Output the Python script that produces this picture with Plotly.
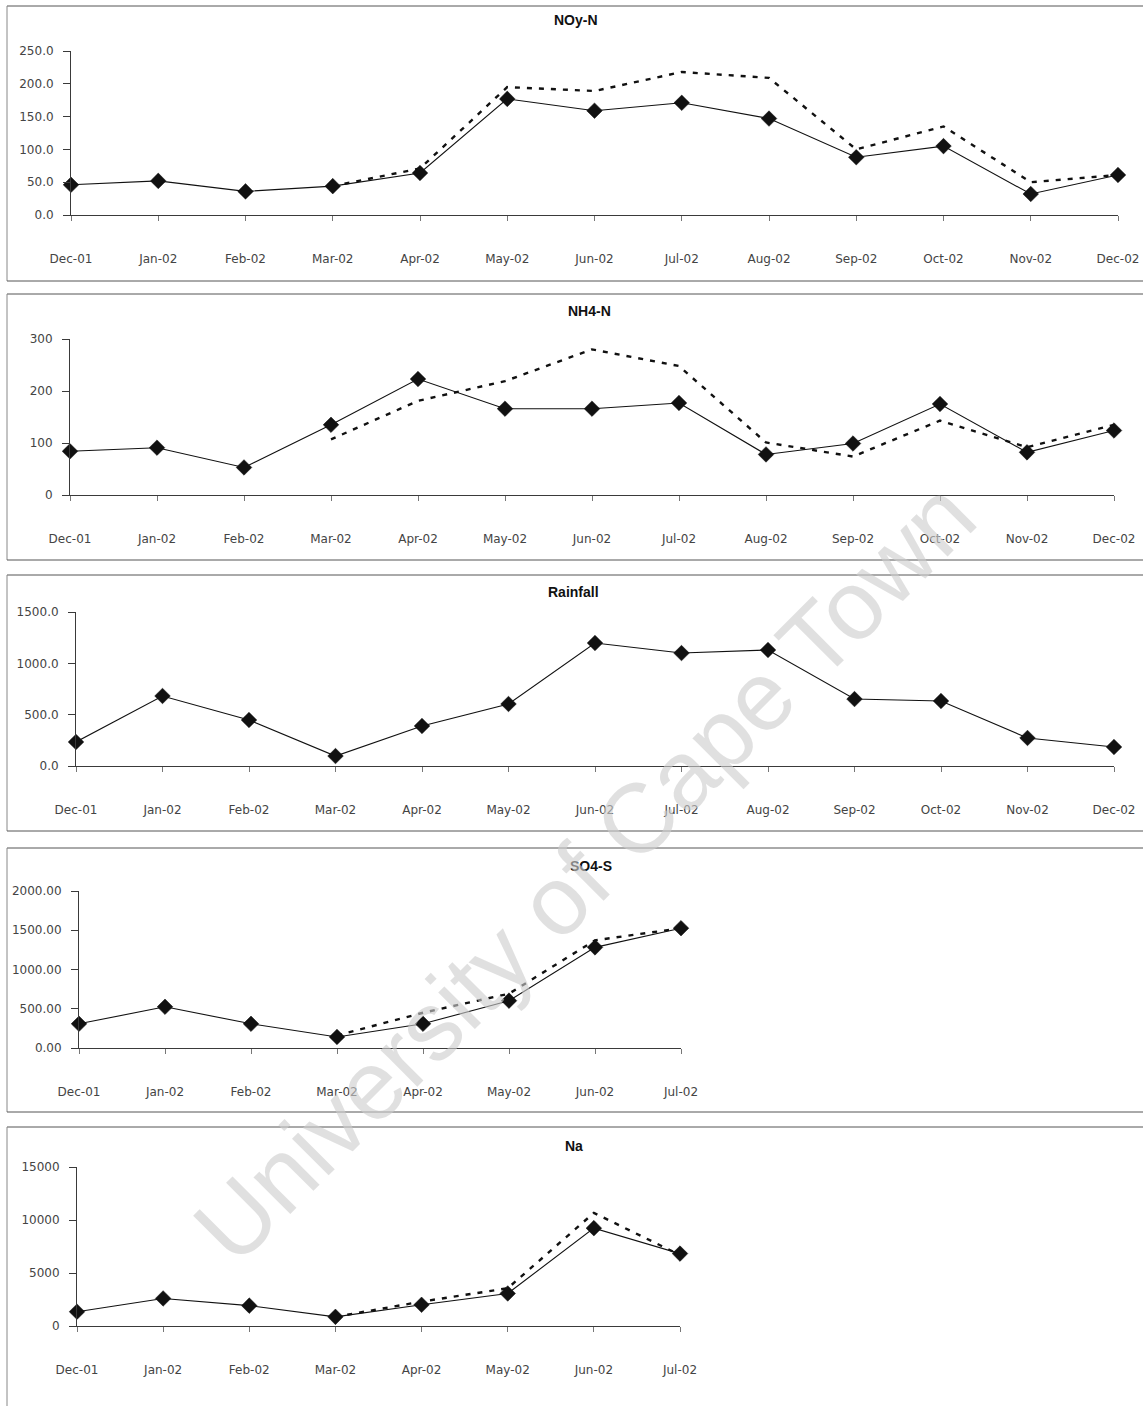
import plotly.graph_objects as go

# ---- data -------------------------------------------------------------
months_full = ["Dec-01", "Jan-02", "Feb-02", "Mar-02", "Apr-02", "May-02", "Jun-02",
               "Jul-02", "Aug-02", "Sep-02", "Oct-02", "Nov-02", "Dec-02"]
months_short = months_full[:8]

noy_solid = [46, 52, 36, 44, 64, 177, 159, 171, 147, 88, 105, 32, 61]
noy_dashed = [None, None, None, 44, 71, 195, 189, 218, 209, 100, 135, 50, 61]

nh4_solid = [84, 91, 53, 135, 223, 166, 166, 177, 78, 99, 175, 82, 124]
nh4_dashed = [None, None, None, 107, 181, 219, 280, 248, 101, 74, 143, 92, 135]

rain_solid = [234, 682, 448, 97, 390, 604, 1198, 1100, 1130, 652, 633, 273, 185]

so4_solid = [308, 525, 308, 141, 308, 603, 1282, 1526]
so4_dashed = [None, None, None, 160, 449, 692, 1372, 1526]

na_solid = [1350, 2600, 1920, 865, 2000, 3070, 9230, 6830]
na_dashed = [None, None, None, 865, 2300, 3560, 10670, 6700]

noy_ticks = [0, 50, 100, 150, 200, 250]
nh4_ticks = [0, 100, 200, 300]
rain_ticks = [0, 500, 1000, 1500]
so4_ticks = [0, 500, 1000, 1500, 2000]
na_ticks = [0, 5000, 10000, 15000]

# ---- page geometry (pixels) ----------------------------------------
W, H = 1143, 1406
FONT = "Liberation Sans, Arial, sans-serif"
TICKFONT = "DejaVu Sans, Liberation Sans, sans-serif"

panels = [
    dict(title="NOy-N", months=months_full, solid=noy_solid, dashed=noy_dashed,
         ticks=noy_ticks, fmt="{:.1f}", x0=71, x1=1118, yz=215, yt=51, tx=576, ty=20),
    dict(title="NH4-N", months=months_full, solid=nh4_solid, dashed=nh4_dashed,
         ticks=nh4_ticks, fmt="{:.0f}", x0=70, x1=1114, yz=495, yt=339, tx=589, ty=311),
    dict(title="Rainfall", months=months_full, solid=rain_solid, dashed=None,
         ticks=rain_ticks, fmt="{:.1f}", x0=76, x1=1114, yz=766, yt=612, tx=573, ty=592),
    dict(title="SO4-S", months=months_short, solid=so4_solid, dashed=so4_dashed,
         ticks=so4_ticks, fmt="{:.2f}", x0=79, x1=681, yz=1048, yt=891, tx=591, ty=866),
    dict(title="Na", months=months_short, solid=na_solid, dashed=na_dashed,
         ticks=na_ticks, fmt="{:.0f}", x0=77, x1=680, yz=1326, yt=1167, tx=574, ty=1146),
]

AX = "#3a3a3a"
LBL = "#444"
fig = go.Figure()
layout = dict(
    width=W, height=H, autosize=False,
    margin=dict(l=0, r=0, t=0, b=0, autoexpand=False),
    paper_bgcolor="white", plot_bgcolor="rgba(0,0,0,0)",
    showlegend=False,
    font=dict(family=FONT, size=11, color="#333"),
)

annotations = []
shapes = []

n = len(panels)
for i, p in enumerate(panels):
    k = i + 1
    k2 = i + 1 + n  # overlay axes used for the inward half of the tick crosses
    xa = f"x{k}" if k > 1 else "x"
    ya = f"y{k}" if k > 1 else "y"
    xn = f"xaxis{k}" if k > 1 else "xaxis"
    yn = f"yaxis{k}" if k > 1 else "yaxis"
    xdom = [p["x0"] / W, p["x1"] / W]
    ydom = [1 - p["yz"] / H, 1 - p["yt"] / H]
    nm = len(p["months"])
    xs = list(range(nm))
    ymax = p["ticks"][-1]

    layout[xn] = dict(
        domain=xdom, anchor=ya, range=[0, nm - 1],
        tickmode="array", tickvals=xs, ticktext=p["months"],
        showline=True, linecolor=AX, linewidth=1,
        ticks="outside", ticklen=5, tickcolor="#777", tickwidth=1,
        showgrid=False, zeroline=False, fixedrange=True,
        tickfont=dict(family=TICKFONT, size=12, color=LBL),
        ticklabelstandoff=28,
    )
    layout[yn] = dict(
        domain=ydom, anchor=xa, range=[0, ymax],
        tickmode="array", tickvals=p["ticks"],
        ticktext=[p["fmt"].format(v) for v in p["ticks"]],
        showline=True, linecolor=AX, linewidth=1,
        ticks="outside", ticklen=7, tickcolor=AX, tickwidth=1,
        showgrid=False, zeroline=False, fixedrange=True,
        tickfont=dict(family=TICKFONT, size=12, color=LBL),
        ticklabelstandoff=7,
    )
    # inward tick marks on overlaid axes
    layout[f"xaxis{k2}"] = dict(
        overlaying=xa, anchor=ya, range=[0, nm - 1], side="bottom",
        tickmode="array", tickvals=xs, showticklabels=False,
        showline=False, ticks="inside", ticklen=5, tickcolor="#777",
        showgrid=False, zeroline=False, fixedrange=True,
    )
    layout[f"yaxis{k2}"] = dict(
        overlaying=ya, anchor=xa, range=[0, ymax], side="left",
        tickmode="array", tickvals=p["ticks"], showticklabels=False,
        showline=False, ticks="inside", ticklen=7, tickcolor=AX,
        showgrid=False, zeroline=False, fixedrange=True,
    )

    if p["dashed"] is not None:
        fig.add_trace(go.Scatter(
            x=xs, y=p["dashed"], xaxis=xa, yaxis=ya, mode="lines",
            line=dict(color="#111", width=2.4, dash="5px,7px"),
            connectgaps=False, cliponaxis=False, hoverinfo="skip",
        ))
    fig.add_trace(go.Scatter(
        x=xs, y=p["solid"], xaxis=xa, yaxis=ya, mode="lines+markers",
        line=dict(color="#111", width=1.1),
        marker=dict(symbol="diamond", size=12, color="#111",
                    line=dict(color="#111", width=0.5)),
        cliponaxis=False,
    ))

    annotations.append(dict(
        text=f"<b>{p['title']}</b>", x=p["tx"] / W, y=1 - p["ty"] / H,
        xref="paper", yref="paper", xanchor="center", yanchor="middle",
        showarrow=False, font=dict(family=FONT, size=14, color="#111"),
    ))

# panel frames (top rule, left rule, bottom rule)
frames = [(6, 281), (294, 560), (575, 831), (848, 1112), (1127, None)]
for top, bot in frames:
    shapes.append(dict(type="line", xref="paper", yref="paper",
                       x0=7 / W, x1=1, y0=1 - top / H, y1=1 - top / H,
                       line=dict(color="#555", width=1)))
    yb = bot if bot is not None else H
    shapes.append(dict(type="line", xref="paper", yref="paper",
                       x0=7 / W, x1=7 / W, y0=1 - top / H, y1=1 - yb / H,
                       line=dict(color="#888", width=1)))
    if bot is not None:
        shapes.append(dict(type="line", xref="paper", yref="paper",
                           x0=7 / W, x1=1, y0=1 - bot / H, y1=1 - bot / H,
                           line=dict(color="#555", width=1)))

# diagonal watermark
annotations.append(dict(
    text="University of Cape Town", x=584 / W, y=1 - 872 / H,
    xref="paper", yref="paper", xanchor="center", yanchor="middle",
    showarrow=False, textangle=-45,
    font=dict(family=FONT, size=98, color="rgba(205,205,205,0.62)"),
))

layout["annotations"] = annotations
layout["shapes"] = shapes
fig.update_layout(**layout)

fig.write_html(
    "out.html",
    config={"responsive": False},
    post_script="document.body.style.margin='0';document.body.style.overflow='hidden';",
)
